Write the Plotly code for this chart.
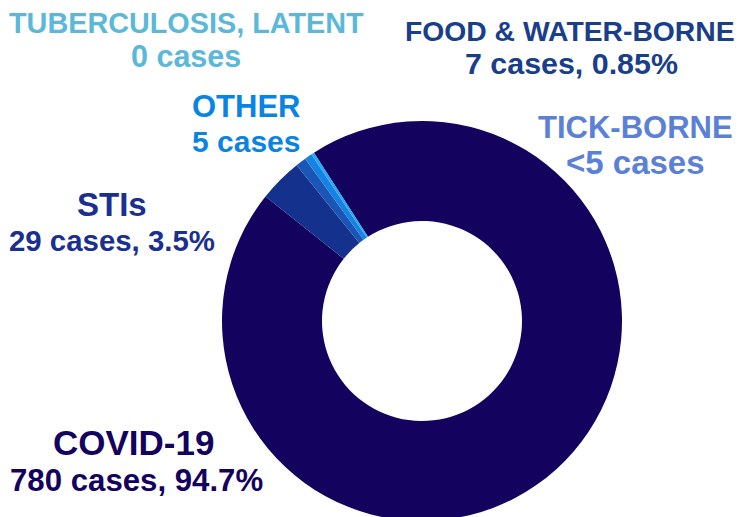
import plotly.graph_objects as go

# ---- data ----
categories = ["COVID-19", "STIs", "FOOD & WATER-BORNE", "OTHER", "TICK-BORNE", "TUBERCULOSIS, LATENT"]
case_values = [780, 29, 7, 5, 2, 0]          # tick-borne reported as "<5"
case_labels = ["780 cases, 94.7%", "29 cases, 3.5%", "7 cases, 0.85%", "5 cases", "<5 cases", "0 cases"]

# ---- styling ----
slice_colors = ["#14035E", "#13318D", "#1B56B6", "#1683E4", "#2AA9F2", "#5BB8D8"]
label_colors = ["#14035E", "#1B2F8F", "#1A3F8A", "#0A84E3", "#5B80D8", "#5BB8D8"]
title_sizes = [35, 33, 28.3, 31, 31, 28.8]
sub_sizes = [31.2, 29.4, 30.4, 30, 33, 30.5]
# page pixel centres (x, y) of title line and of sub line
title_pos = [(134, 442), (112, 205), (570, 31), (246, 106), (635, 127), (186, 23)]
sub_pos = [(136, 480), (112, 241), (571, 63), (246, 141), (635, 162), (186, 56)]

OFF = 8                     # page body margin
W, H = 742, 517
cx, cy, r = 422 - OFF, 321 - OFF, 200

fig = go.Figure(go.Pie(
    labels=categories,
    values=case_values,
    sort=False,
    direction="clockwise",
    rotation=-32.7,
    hole=0.5,
    marker=dict(colors=slice_colors, line=dict(width=0)),
    textinfo="none",
    hoverinfo="label+value",
    showlegend=False,
    domain=dict(x=[(cx - r) / W, (cx + r) / W], y=[1 - (cy + r) / H, 1 - (cy - r) / H]),
))

FONT = "Liberation Sans, Arial, sans-serif"


def place(text, pos, size, col):
    x, y = pos
    fig.add_annotation(
        x=(x - OFF) / W, y=1 - (y - OFF) / H, xref="paper", yref="paper",
        xanchor="center", yanchor="middle", showarrow=False,
        text="<b>" + text.replace("&", "&amp;").replace("<", "&lt;") + "</b>",
        font=dict(family=FONT, size=size, color=col),
    )


for i in range(len(categories)):
    place(categories[i], title_pos[i], title_sizes[i], label_colors[i])
    place(case_labels[i], sub_pos[i], sub_sizes[i], label_colors[i])

fig.update_layout(
    width=W, height=H,
    margin=dict(l=0, r=0, t=0, b=0),
    paper_bgcolor="white", plot_bgcolor="white",
)

fig.write_html("out.html")
